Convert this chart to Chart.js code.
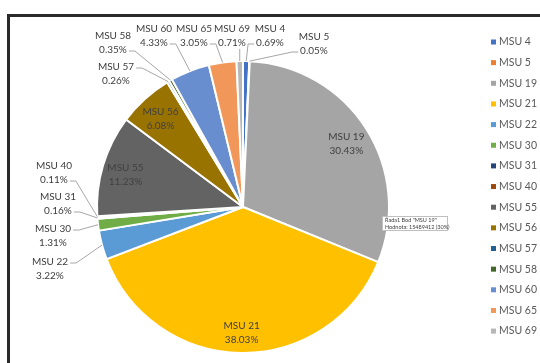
<!DOCTYPE html>
<html>
  <head>
    <title>MSU</title>
    <script src="https://cdn.jsdelivr.net/npm/chart.js"></script>
    <style>
      body { margin: 0; background: #fff; overflow: hidden; }
      .wrap { position: relative; width: 540px; height: 363px; overflow: hidden; }
      .frame { position: absolute; left: 7px; top: 14px; width: 560px; height: 380px; border-top: 3px solid #2a2a2a; border-left: 3px solid #2a2a2a; }
      canvas { position: absolute; left: 0; top: 0; }
    </style>
  </head>
  <body>
    <div class="wrap">
      <div class="frame"></div>
      <canvas id="pie" width="540" height="363"></canvas>
    </div>
    <script>
      var categories = ['MSU 4', 'MSU 5', 'MSU 19', 'MSU 21', 'MSU 22', 'MSU 30', 'MSU 31', 'MSU 40',
        'MSU 55', 'MSU 56', 'MSU 57', 'MSU 58', 'MSU 60', 'MSU 65', 'MSU 69'];
      var shares = [0.69, 0.05, 30.43, 38.03, 3.22, 1.31, 0.16, 0.11, 11.23, 6.08, 0.26, 0.35, 4.33, 3.05, 0.71];
      var colors = ['#4472C4', '#ED7D31', '#A5A5A5', '#FFC000', '#5B9BD5', '#70AD47', '#264478', '#9E480E',
        '#636363', '#997300', '#255E91', '#43682B', '#698ED0', '#F1975A', '#B7B7B7'];

      // where the outside labels sit (line 1 centre), and which side the leader leaves from
      var outsideLabels = {
        'MSU 4': { x: 270, y: 29, side: 'left', line: 1 },
        'MSU 5': { x: 314, y: 37, side: 'left', line: 1 },
        'MSU 22': { x: 50, y: 262, side: 'right', line: 0 },
        'MSU 30': { x: 53, y: 229, side: 'right', line: 0 },
        'MSU 31': { x: 58, y: 197, side: 'right', line: 1 },
        'MSU 40': { x: 54, y: 166, side: 'right', line: 1 },
        'MSU 57': { x: 116, y: 67, side: 'right', line: 0 },
        'MSU 58': { x: 113, y: 36, side: 'right', line: 1 },
        'MSU 60': { x: 154, y: 29, side: 'right', line: 1 },
        'MSU 65': { x: 194, y: 29, side: 'right', line: 1 },
        'MSU 69': { x: 232, y: 29, side: 'bottom', line: 1 },
      };

      var labelPlugin = {
        id: 'msuLabels',
        afterDatasetsDraw: function (chart) {
          var ctx = chart.ctx;
          var arcs = chart.getDatasetMeta(0).data;
          ctx.save();
          ctx.font = '10px Lato';
          ctx.textAlign = 'center';
          ctx.textBaseline = 'middle';
          ctx.strokeStyle = '#a6a6a6';
          ctx.lineWidth = 1;
          arcs.forEach(function (arc, i) {
            var name = categories[i];
            var pct = shares[i].toFixed(2) + '%';
            var p = arc.getProps(['x', 'y', 'startAngle', 'endAngle', 'outerRadius'], true);
            var mid = (p.startAngle + p.endAngle) / 2;
            var edgeX = p.x + Math.cos(mid) * p.outerRadius;
            var edgeY = p.y + Math.sin(mid) * p.outerRadius;
            var pos = outsideLabels[name];
            ctx.fillStyle = '#404040';
            if (!pos) {
              var r = p.outerRadius * 0.84;
              var lx = p.x + Math.cos(mid) * r;
              var ly = p.y + Math.sin(mid) * r + 3;
              ctx.fillText(name, lx, ly - 7);
              ctx.fillText(pct, lx, ly + 7);
              return;
            }
            ctx.fillText(name, pos.x, pos.y);
            ctx.fillText(pct, pos.x, pos.y + 14);
            ctx.beginPath();
            if (pos.side === 'bottom') {
              ctx.moveTo(edgeX, pos.y + 20);
              ctx.lineTo(edgeX, edgeY);
            } else {
              var w = ctx.measureText(pos.line === 0 ? name : pct).width;
              var dir = pos.side === 'right' ? 1 : -1;
              var sx = pos.x + dir * (w / 2 + 2);
              var sy = pos.y + 14 * pos.line + 1;
              ctx.moveTo(sx, sy);
              ctx.lineTo(sx + dir * 6, sy);
              ctx.lineTo(edgeX, edgeY);
            }
            ctx.stroke();
          });

          // legend
          ctx.textAlign = 'left';
          ctx.font = '10.5px Lato';
          categories.forEach(function (name, i) {
            var y = 42 + i * 20.65;
            ctx.fillStyle = colors[i];
            ctx.fillRect(491, y - 2.5, 5, 5);
            ctx.fillStyle = '#595959';
            ctx.fillText(name, 499, y);
          });

          // hover note left on the picture
          ctx.fillStyle = '#fff';
          ctx.fillRect(382, 216, 65, 15);
          ctx.strokeStyle = '#bfbfbf';
          ctx.strokeRect(382.5, 216.5, 65, 14);
          ctx.fillStyle = '#404040';
          ctx.font = '5.5px Lato';
          ctx.fillText('\u0158ada1 Bod "' + categories[2] + '"', 385, 220);
          ctx.fillText('Hodnota: 15489412 (30%)', 385, 227);
          ctx.restore();
        },
      };

      var ctx = document.getElementById('pie').getContext('2d');
      var pieChart = new Chart(ctx, {
        type: 'pie',
        data: {
          labels: categories,
          datasets: [
            {
              data: shares,
              backgroundColor: colors,
              borderColor: '#ffffff',
              borderWidth: 2,
            },
          ],
        },
        options: {
          responsive: false,
          animation: false,
          events: [],
          layout: { padding: { left: 96, right: 150, top: 60, bottom: 9 } },
          plugins: {
            legend: { display: false },
            tooltip: { enabled: false },
          },
        },
        plugins: [labelPlugin],
      });
    </script>
  </body>
</html>
